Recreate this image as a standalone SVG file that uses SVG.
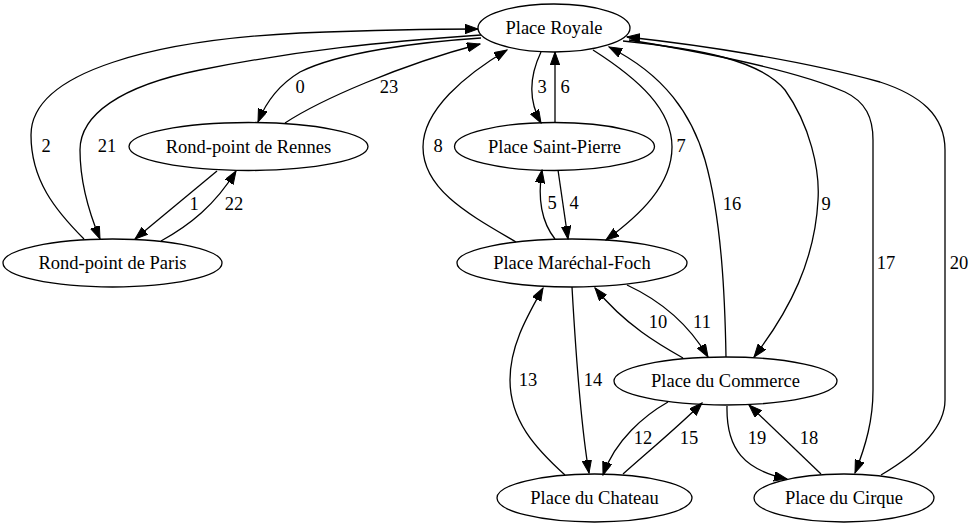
<svg xmlns="http://www.w3.org/2000/svg" width="975" height="528" viewBox="0 0 975 528">
<style>
.node ellipse{fill:none;stroke:#000;stroke-width:1.3}
.edges path{fill:none;stroke:#000;stroke-width:1.3;marker-end:url(#arr)}
</style>
<defs>
<marker id="arr" markerUnits="userSpaceOnUse" markerWidth="14" markerHeight="10" refX="13" refY="4.7" orient="auto">
<path d="M0,0 L13,4.7 L0,9.4 z" fill="#000" stroke="#000" stroke-width="1"/>
</marker>
</defs>
<rect width="975" height="528" fill="#fff"/>
<g font-family="'Liberation Serif', 'DejaVu Serif', 'Times New Roman', serif" font-size="18.5" text-anchor="middle" fill="#000">
<g class="edges" id="edges">
<path d="M481,38 C420,42 340,52 300,72 C280,84 266,102 258,122"/>
<path d="M285,123 C320,100 400,65 480,44"/>
<path d="M84,239 C55,210 31,180 31,135 C31,70 160,40 300,33 C380,30 440,29 478,29"/>
<path d="M481,35 C380,42 300,50 200,70 C120,86 80,115 80,150 C80,185 90,215 100,239"/>
<path d="M217,171 L135,239"/>
<path d="M161,241 C190,225 215,205 236,171"/>
<path d="M541,52 C530,75 528,100 541,123"/>
<path d="M555,123 L555,52"/>
<path d="M516,242 C470,215 423,190 423,147 C423,110 465,75 507,50"/>
<path d="M593,50 C640,80 672,110 672,147 C672,185 640,215 606,240"/>
<path d="M555,239 C540,220 538,195 542,170"/>
<path d="M558,170 L568,239"/>
<path d="M726,357 C725,300 722,220 705,160 C692,115 665,75 609,47"/>
<path d="M623,41 C700,49 760,60 785,90 C810,125 820,170 818,200 C815,260 790,310 754,357"/>
<path d="M629,40 C720,55 800,72 845,92 C866,102 873,118 873,140 L873,390 C873,420 866,445 855,473"/>
<path d="M881,475 C915,455 945,430 945,400 L945,150 C945,115 920,95 880,82 C800,60 700,45 627,37"/>
<path d="M683,358 C660,345 625,325 595,288"/>
<path d="M627,285 C655,298 685,318 708,357"/>
<path d="M565,475 C535,448 510,420 510,380 C510,345 528,315 543,288"/>
<path d="M572,287 C575,340 580,420 589,473"/>
<path d="M668,402 C645,415 615,440 603,475"/>
<path d="M623,474 C650,450 680,425 702,403"/>
<path d="M727,406 C726,450 745,470 787,479"/>
<path d="M821,474 L749,405"/>
<g id="edge-labels">
<text x="300" y="93">0</text>
<text x="389" y="93">23</text>
<text x="46" y="152">2</text>
<text x="107" y="152">21</text>
<text x="194" y="210">1</text>
<text x="234" y="210">22</text>
<text x="542" y="93">3</text>
<text x="565" y="93">6</text>
<text x="438" y="152">8</text>
<text x="681" y="152">7</text>
<text x="552" y="209">5</text>
<text x="574" y="209">4</text>
<text x="732" y="210">16</text>
<text x="826" y="210">9</text>
<text x="886" y="269">17</text>
<text x="959" y="269">20</text>
<text x="658" y="328">10</text>
<text x="702" y="328">11</text>
<text x="528" y="386">13</text>
<text x="593" y="386">14</text>
<text x="643" y="444">12</text>
<text x="689" y="444">15</text>
<text x="757" y="444">19</text>
<text x="809" y="444">18</text>
</g>
</g>
<g class="node" id="place-royale"><ellipse cx="554" cy="28" rx="76" ry="24"/><text x="554" y="34">Place Royale</text></g>
<g class="node" id="rond-point-rennes"><ellipse cx="248.5" cy="146.5" rx="119.5" ry="24"/><text x="248.5" y="152.5">Rond-point de Rennes</text></g>
<g class="node" id="rond-point-paris"><ellipse cx="112.5" cy="263" rx="109.5" ry="24"/><text x="112.5" y="269">Rond-point de Paris</text></g>
<g class="node" id="place-saint-pierre"><ellipse cx="554.5" cy="146.5" rx="100" ry="24"/><text x="554.5" y="152.5">Place Saint-Pierre</text></g>
<g class="node" id="place-marechal-foch"><ellipse cx="572" cy="263" rx="115" ry="24"/><text x="572" y="269">Place Maréchal-Foch</text></g>
<g class="node" id="place-du-commerce"><ellipse cx="725.5" cy="381" rx="111.5" ry="24"/><text x="725.5" y="387">Place du Commerce</text></g>
<g class="node" id="place-du-chateau"><ellipse cx="594.5" cy="498" rx="97.5" ry="24"/><text x="594.5" y="504">Place du Chateau</text></g>
<g class="node" id="place-du-cirque"><ellipse cx="844" cy="498" rx="90" ry="24"/><text x="844" y="504">Place du Cirque</text></g>
</g>
</svg>
